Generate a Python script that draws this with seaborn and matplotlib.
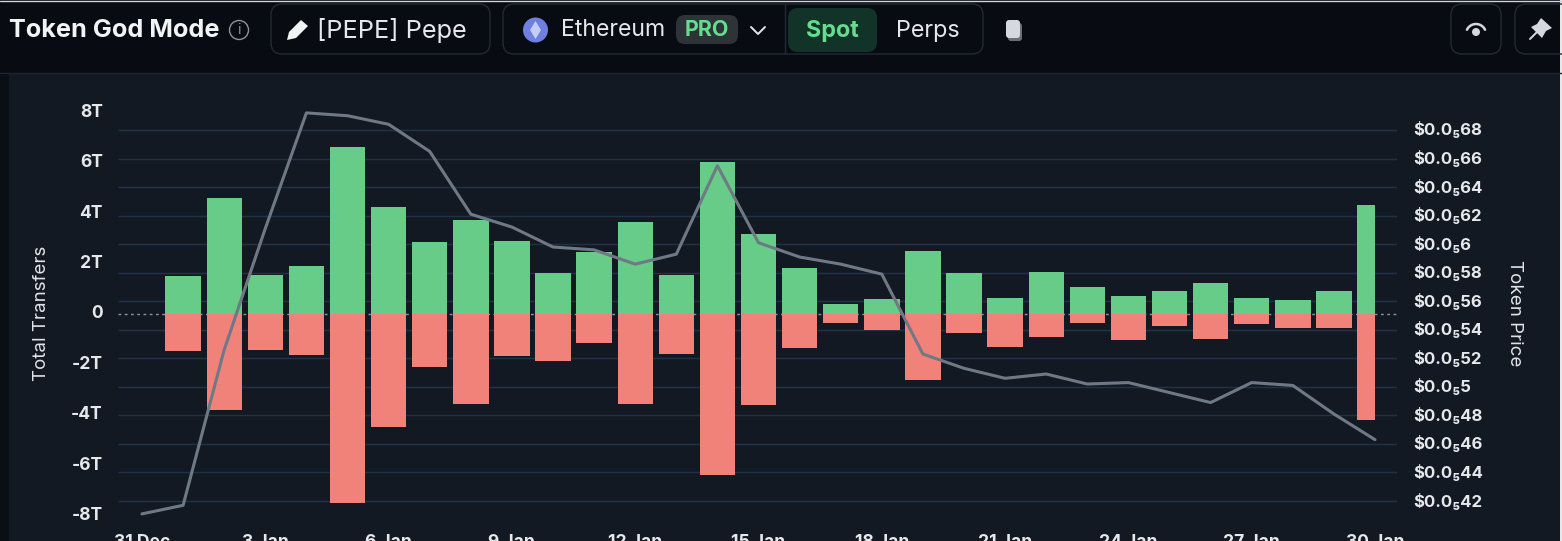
import matplotlib
matplotlib.use("Agg")
import matplotlib.pyplot as plt
from matplotlib.patches import FancyBboxPatch, Circle, Polygon, Rectangle
from matplotlib.ticker import FixedLocator, FixedFormatter
import numpy as np
import pandas as pd
import seaborn as sns

# Daily token transfers in trillions, 1-30 Jan
days = list(range(1, 31))
inflow = [1.51, 4.60, 1.55, 1.90, 6.63, 4.25, 2.86, 3.73, 2.90, 1.63, 2.46, 3.65, 1.55,
          6.03, 3.17, 1.83, 0.40, 0.60, 2.50, 1.63, 0.63, 1.67, 1.07, 0.71, 0.91, 1.23,
          0.63, 0.56, 0.91, 4.33]
outflow = [-1.47, -3.81, -1.43, -1.63, -7.49, -4.48, -2.10, -3.57, -1.67, -1.87, -1.15,
           -3.57, -1.59, -6.39, -3.61, -1.35, -0.36, -0.63, -2.62, -0.75, -1.31, -0.91,
           -0.36, -1.03, -0.48, -0.99, -0.40, -0.56, -0.56, -4.21]

# Token price per day, 31 Dec-30 Jan
price_days = list(range(0, 31))
price = [4.11, 4.17, 5.26, 6.11, 6.92, 6.90, 6.84, 6.65, 6.21, 6.12, 5.98, 5.96, 5.86,
         5.93, 6.55, 6.01, 5.91, 5.86, 5.79, 5.23, 5.13, 5.06, 5.09, 5.02, 5.03, 4.96,
         4.89, 5.03, 5.01, 4.81, 4.63]
price = [p * 1e-7 for p in price]

transfer_ticks = [8, 6, 4, 2, 0, -2, -4, -6, -8]
transfer_labels = ["8T", "6T", "4T", "2T", "0", "-2T", "-4T", "-6T", "-8T"]
price_ticks = [p * 1e-7 for p in [6.8, 6.6, 6.4, 6.2, 6.0, 5.8, 5.6, 5.4, 5.2, 5.0, 4.8, 4.6, 4.4, 4.2]]
price_labels = ["$0.0\u208568", "$0.0\u208566", "$0.0\u208564", "$0.0\u208562", "$0.0\u20856",
                "$0.0\u208558", "$0.0\u208556", "$0.0\u208554", "$0.0\u208552", "$0.0\u20855",
                "$0.0\u208548", "$0.0\u208546", "$0.0\u208544", "$0.0\u208542"]
date_ticks = [0, 3, 6, 9, 12, 15, 18, 21, 24, 27, 30]
date_labels = ["31 Dec", "3 Jan", "6 Jan", "9 Jan", "12 Jan", "15 Jan", "18 Jan", "21 Jan",
               "24 Jan", "27 Jan", "30 Jan"]

W, H = 1562, 541
HEADER_BG = "#080b12"
PANEL_BG = "#131923"
GREEN = "#66cc88"
RED = "#f0827a"
GRID = "#1f3347"
LIGHT = "#e6e8ec"

sns.set_theme(style="dark", rc={"axes.facecolor": "none", "figure.facecolor": HEADER_BG,
                                "ytick.alignment": "center"})
plt.rcParams["font.family"] = ["Inter", "DejaVu Sans"]

fig = plt.figure(figsize=(W / 100, H / 100), dpi=100)

# Page furniture, laid out in pixel units
bg = fig.add_axes([0, 0, 1, 1], zorder=0)
bg.set_xlim(0, W)
bg.set_ylim(H, 0)
bg.axis("off")
bg.add_patch(Rectangle((0, 73), W, H - 73, color=PANEL_BG, lw=0))
bg.add_patch(Rectangle((0, 73), 9, H - 73, color="#0a0e15", lw=0))
bg.plot([0, W], [73, 73], color="#1e2530", lw=1)
bg.plot([0, W], [0.5, 0.5], color="#cfd2d6", lw=1)
bg.add_patch(Rectangle((1560, 0), 2, H, color="#e8e8e8", lw=0))

def box(x, y, w, h, r=11, fc="none", ec="#232a35"):
    bg.add_patch(FancyBboxPatch((x + r, y + r), w - 2 * r, h - 2 * r,
                                boxstyle=f"round,pad={r}", fc=fc, ec=ec, lw=1))

bg.text(9, 30.5, "Token God Mode", color="#f2f3f5", fontsize=18.2, fontweight="bold", va="center")
bg.add_patch(Circle((239, 30), 9.5, fc="none", ec="#8d929b", lw=1))
bg.text(239, 30.5, "i", color="#8d929b", fontsize=10, ha="center", va="center")

box(271, 4, 219, 50)
bg.add_patch(Polygon([[287, 40], [289, 32], [301, 20], [308, 26], [296, 38]], color="#f2f3f5", lw=0))
bg.text(317, 30.5, "[PEPE] Pepe", color=LIGHT, fontsize=18.2, va="center")

box(503, 4, 480, 50)
bg.plot([785, 785], [4, 54], color="#232a35", lw=1)
bg.add_patch(Circle((535.5, 30), 12.5, color="#6e7fe0", lw=0))
bg.add_patch(Polygon([[535.5, 21], [541, 30], [535.5, 39], [530, 30]], color="#c5cdf5", lw=0))
bg.text(561, 30.5, "Ethereum", color=LIGHT, fontsize=16.6, va="center")
box(676, 15, 62, 29, r=9, fc="#2e3338", ec="none")
bg.text(707, 30, "PRO", color="#66dd8e", fontsize=15.4, fontweight="bold", ha="center", va="center")
bg.plot([751, 758, 765], [27, 34, 27], color=LIGHT, lw=1.4)
box(788, 8, 89, 44, r=10, fc="#123328", ec="none")
bg.text(832, 30.5, "Spot", color="#66dd8e", fontsize=16.8, fontweight="bold", ha="center", va="center")
bg.text(928, 30.5, "Perps", color=LIGHT, fontsize=16.8, ha="center", va="center")
box(1008, 23, 14, 18, r=3, fc="#6b7078", ec="none")
box(1006, 20, 14, 18, r=3, fc="#d5d8de", ec="none")

box(1451, 4, 50, 50)
bg.add_patch(Circle((1476, 32), 4, color="#d5d8de", lw=0))
theta = np.linspace(np.radians(25), np.radians(155), 30)
bg.plot(1476 + 10 * np.cos(theta), 34 - 10 * np.sin(theta), color="#d5d8de", lw=1.8)
box(1515, 4, 60, 50)
bg.add_patch(Polygon([[1541, 18], [1552, 28], [1546, 31], [1542, 38], [1531, 27], [1537, 24]],
                     color="#d5d8de", lw=0))
bg.plot([1530, 1537], [39, 32], color="#d5d8de", lw=1.4)

# Chart frame spans the gridline extent in pixels
left, right, top, bottom = 118, 1397, 100, 526
ax = fig.add_axes([left / W, 1 - bottom / H, (right - left) / W, (bottom - top) / H], zorder=2)
day0, day_px = 142, 41.1
zero_px, t_px = 314, 25.2
price_ref_px, price_px = 130, 28.54 / 0.2e-7

ax.set_xlim((left - day0) / day_px, (right - day0) / day_px)
ax.set_ylim((zero_px - bottom) / t_px, (zero_px - top) / t_px)

transfers = pd.DataFrame({"day": days, "inflow": inflow, "outflow": outflow})
bar_width = 35.4 / day_px
sns.barplot(data=transfers, x="day", y="inflow", native_scale=True, color=GREEN, saturation=1,
            width=bar_width, edgecolor="none", linewidth=0, ax=ax, zorder=3)
sns.barplot(data=transfers, x="day", y="outflow", native_scale=True, color=RED, saturation=1,
            width=bar_width, edgecolor="none", linewidth=0, ax=ax, zorder=3)
# The plotting area stops at the last date, cutting that day's bar in half
clip = Rectangle((0, -100), 30, 200, transform=ax.transData)
for bar in ax.patches:
    bar.set_clip_path(clip)

ax.axhline(0, color="#8a93a0", lw=1, ls=(0, (2, 2.5)), zorder=2)
ax.xaxis.set_major_locator(FixedLocator(date_ticks))
ax.xaxis.set_major_formatter(FixedFormatter(date_labels))
ax.yaxis.set_major_locator(FixedLocator(transfer_ticks))
ax.yaxis.set_major_formatter(FixedFormatter(transfer_labels))
ax.tick_params(axis="x", length=0, pad=5.5, colors=LIGHT, labelsize=12.6)
ax.tick_params(axis="y", length=0, pad=11, colors=LIGHT, labelsize=12.6)
for label in ax.get_xticklabels() + ax.get_yticklabels():
    label.set_fontweight("bold")
ax.set_xlabel("")
ax.set_ylabel("")
ax.grid(False)
for spine in ax.spines.values():
    spine.set_visible(False)

# Price on a second axis, with its gridlines under the bars
pax = ax.twinx()
pax.set_zorder(1)
ax.set_zorder(3)
pax.patch.set_visible(False)
pax.set_ylim(6.8e-7 - (bottom - price_ref_px) / price_px, 6.8e-7 + (price_ref_px - top) / price_px)
pax.yaxis.set_major_locator(FixedLocator(price_ticks))
pax.yaxis.set_major_formatter(FixedFormatter(price_labels))
pax.tick_params(axis="y", length=0, pad=12, colors=LIGHT, labelsize=12.1)
for label in pax.get_yticklabels():
    label.set_fontweight("bold")
pax.grid(True, axis="y", color=GRID, lw=1)
pax.set_xlabel("")
pax.set_ylabel("")
for spine in pax.spines.values():
    spine.set_visible(False)

# Line goes on a third layer so it runs over the bars
lax = ax.twinx()
lax.set_zorder(4)
lax.patch.set_visible(False)
lax.set_ylim(pax.get_ylim())
lax.set_yticks([])
lax.grid(False)
for spine in lax.spines.values():
    spine.set_visible(False)
sns.lineplot(x=price_days, y=price, color="#6f7985", lw=2.2, ax=lax, errorbar=None)
lax.set_ylabel("")
lax.set_xlim(ax.get_xlim())
pax.set_xlim(ax.get_xlim())

bg.text(41, 313, "Total Transfers", color="#e0e3e7", fontsize=13.5, rotation=90, ha="center", va="center")
bg.text(1514, 313, "Token Price", color="#e0e3e7", fontsize=13.5, rotation=270, ha="center", va="center")

fig.savefig("out.png", dpi=100, facecolor=fig.get_facecolor())
